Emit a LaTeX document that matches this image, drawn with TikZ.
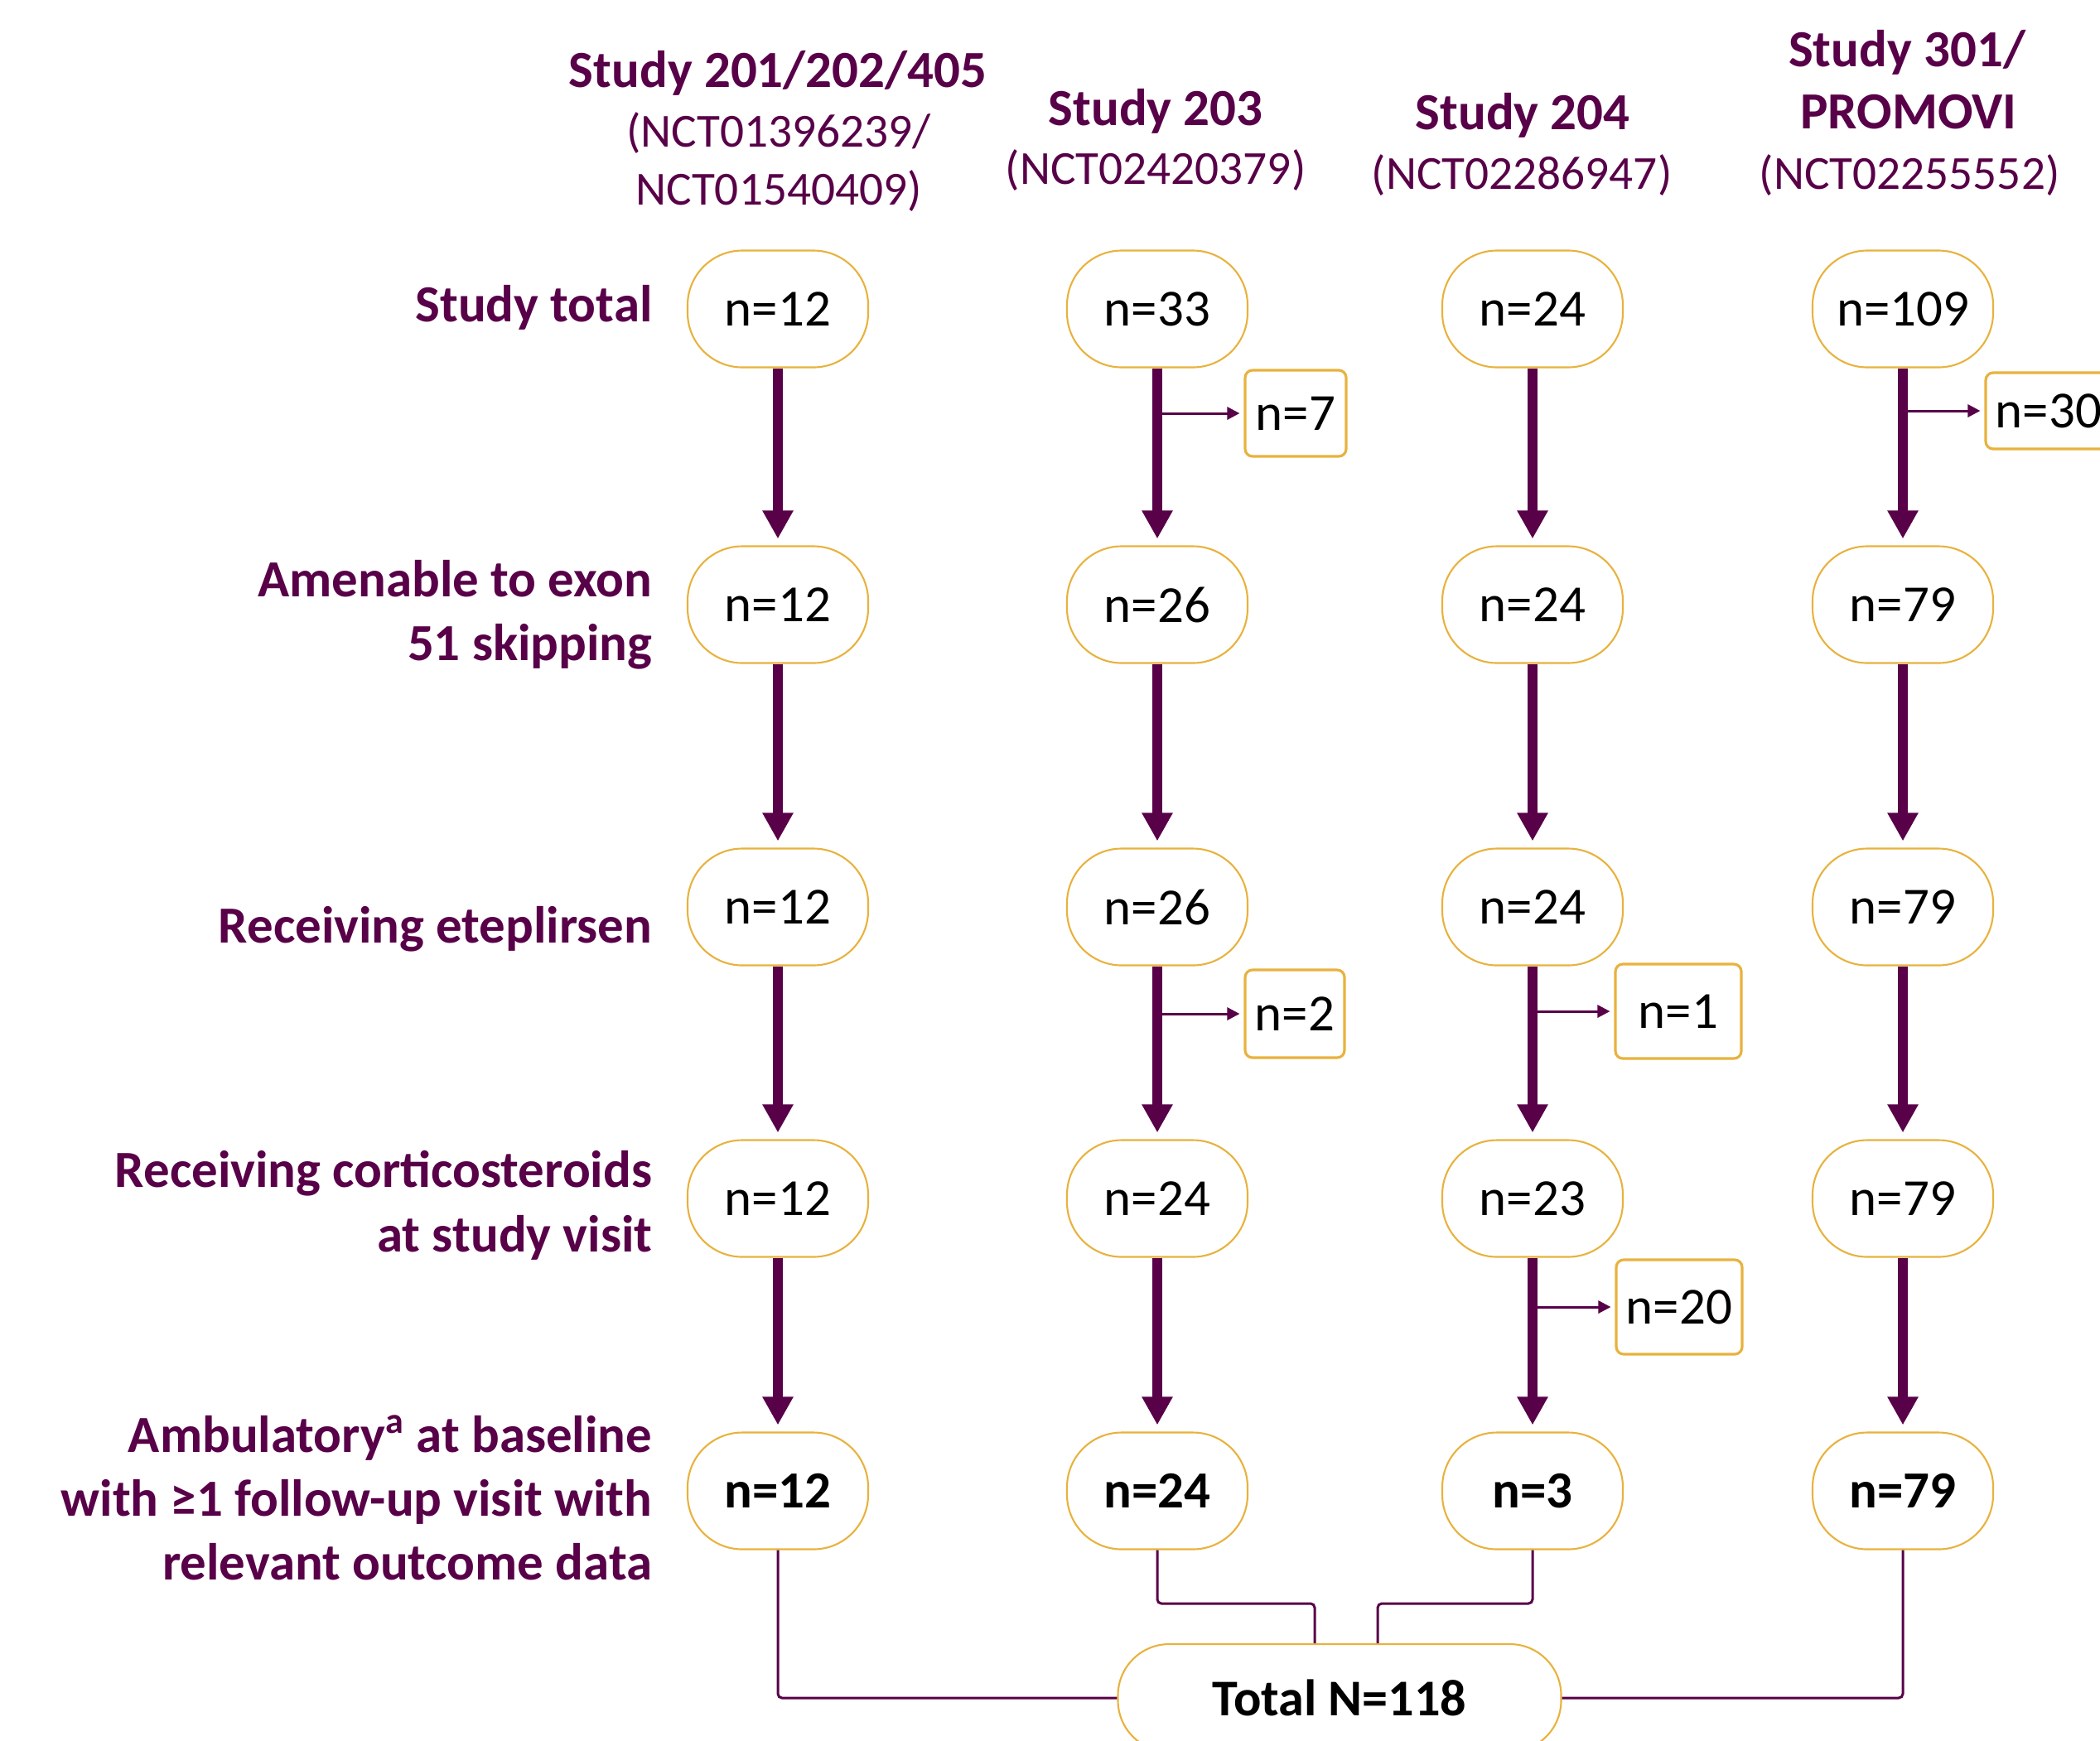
\documentclass[tikz,border=0pt]{standalone}
\usepackage{fontspec}
\setmainfont{Carlito}
\usetikzlibrary{arrows.meta}
\definecolor{plum}{RGB}{88,0,72}
\definecolor{gold}{RGB}{232,178,62}

\begin{document}
\begin{tikzpicture}[
  oval/.style={draw=gold, line width=0.6pt, rounded corners=0.66cm, minimum width=2.18cm, minimum height=1.41cm, inner sep=0pt, font=\fontsize{17.9}{21}\selectfont},
  excl/.style={draw=gold, line width=0.9pt, rounded corners=0.09cm, inner sep=0pt, font=\fontsize{17.9}{21}\selectfont},
  rowlab/.style={anchor=base east, inner sep=0pt, text=plum, font=\bfseries\fontsize{17.9}{21}\selectfont},
  studyhead/.style={anchor=base, inner sep=0pt, text=plum, font=\bfseries\fontsize{17.9}{21}\selectfont},
  nctid/.style={anchor=base, inner sep=0pt, text=plum, font=\fontsize{16.3}{19}\selectfont},
  flow/.style={draw=plum, line width=3.4pt, -{Triangle[width=0.35cm,length=0.34cm]}, shorten >=0.08cm},
  drop/.style={draw=plum, line width=0.85pt, -{Triangle[width=0.15cm,length=0.15cm]}, shorten >=0.05cm},
  merge/.style={draw=plum, line width=0.85pt, rounded corners=0.05cm}
]
\useasboundingbox (0,0) rectangle (25.35,-21.01);

% column heads
\draw(9.39,-1.05) node[studyhead] (hA) {Study 201/202/405};
\draw(9.40,-1.77) node[nctid] (iA) {(NCT01396239/};
\draw(9.40,-2.47) node[nctid] (jA) {NCT01540409)};
\draw(13.95,-1.51) node[studyhead] (hB) {Study 203};
\draw(13.95,-2.22) node[nctid] (iB) {(NCT02420379)};
\draw(18.38,-1.56) node[studyhead] (hC) {Study 204};
\draw(18.37,-2.28) node[nctid] (iC) {(NCT02286947)};
\draw(23.02,-0.80) node[studyhead] (hD) {Study 301/};
\draw(23.04,-1.55) node[studyhead] (jD) {PROMOVI};
\draw(23.05,-2.28) node[nctid] (iD) {(NCT02255552)};

% row labels
\draw(7.88,-3.88) node[rowlab] (L1) {Study total};
\draw(7.88,-7.20) node[rowlab] (L2) {Amenable to exon};
\draw(7.88,-7.97) node[rowlab] (L2b) {51 skipping};
\draw(7.88,-11.38) node[rowlab] (L3) {Receiving eteplirsen};
\draw(7.88,-14.33) node[rowlab] (L4) {Receiving corticosteroids};
\draw(7.88,-15.11) node[rowlab] (L4b) {at study visit};
\draw(7.88,-17.53) node[rowlab] (L5) {Ambulatory\textsuperscript{a} at baseline};
\draw(7.88,-18.30) node[rowlab] (L5b) {with ≥1 follow-up visit with};
\draw(7.88,-19.07) node[rowlab] (L5c) {relevant outcome data};

% counts
\draw(9.39,-3.73) node[oval] (A1) {n=12};
\draw(9.39,-7.30) node[oval] (A2) {n=12};
\draw(9.39,-10.95) node[oval] (A3) {n=12};
\draw(9.39,-14.47) node[oval] (A4) {n=12};
\draw(9.39,-18.00) node[oval] (A5) {\textbf{n=12}};
\draw(13.97,-3.73) node[oval] (B1) {n=33};
\draw(13.97,-7.30) node[oval] (B2) {n=26};
\draw(13.97,-10.95) node[oval] (B3) {n=26};
\draw(13.97,-14.47) node[oval] (B4) {n=24};
\draw(13.97,-18.00) node[oval] (B5) {\textbf{n=24}};
\draw(18.50,-3.73) node[oval] (C1) {n=24};
\draw(18.50,-7.30) node[oval] (C2) {n=24};
\draw(18.50,-10.95) node[oval] (C3) {n=24};
\draw(18.50,-14.47) node[oval] (C4) {n=23};
\draw(18.50,-18.00) node[oval] (C5) {\textbf{n=3}};
\draw(22.97,-3.73) node[oval] (D1) {n=109};
\draw(22.97,-7.30) node[oval] (D2) {n=79};
\draw(22.97,-10.95) node[oval] (D3) {n=79};
\draw(22.97,-14.47) node[oval] (D4) {n=79};
\draw(22.97,-18.00) node[oval] (D5) {\textbf{n=79}};
\draw(16.17,-20.50) node[oval, rounded corners=0.62cm, minimum width=5.35cm, minimum height=1.30cm, font=\bfseries\fontsize{17.7}{21}\selectfont] (T) {Total N=118};

% excluded
\draw(15.64,-4.99) node[excl, minimum width=1.22cm, minimum height=1.04cm] (X7) {n=7};
\draw(15.63,-12.24) node[excl, minimum width=1.20cm, minimum height=1.06cm] (X2) {n=2};
\draw(20.26,-12.21) node[excl, minimum width=1.52cm, minimum height=1.14cm] (X1) {n=1};
\draw(20.27,-15.78) node[excl, minimum width=1.52cm, minimum height=1.14cm] (X20) {n=20};
\draw(24.73,-4.96) node[excl, minimum width=1.52cm, minimum height=0.92cm] (X30) {n=30};

\draw[flow] (A1) -- (A2);
\draw[flow] (A2) -- (A3);
\draw[flow] (A3) -- (A4);
\draw[flow] (A4) -- (A5);
\draw[flow] (B1) -- (B2);
\draw[flow] (B2) -- (B3);
\draw[flow] (B3) -- (B4);
\draw[flow] (B4) -- (B5);
\draw[flow] (C1) -- (C2);
\draw[flow] (C2) -- (C3);
\draw[flow] (C3) -- (C4);
\draw[flow] (C4) -- (C5);
\draw[flow] (D1) -- (D2);
\draw[flow] (D2) -- (D3);
\draw[flow] (D3) -- (D4);
\draw[flow] (D4) -- (D5);

\draw[drop] (B1 |- X7) -- (X7);
\draw[drop] (D1 |- X30) -- (X30);
\draw[drop] (B3 |- X2) -- (X2);
\draw[drop] (C3 |- X1) -- (X1);
\draw[drop] (C4 |- X20) -- (X20);

% into the total
\coordinate (jB) at (15.87,-19.36);
\coordinate (jC) at (16.63,-19.36);
\draw[merge] (A5) |- (T);
\draw[merge] (D5) |- (T);
\draw[merge] (B5) |- (jB) -- (jB |- T.north);
\draw[merge] (C5) |- (jC) -- (jC |- T.north);

\end{tikzpicture}
\end{document}
